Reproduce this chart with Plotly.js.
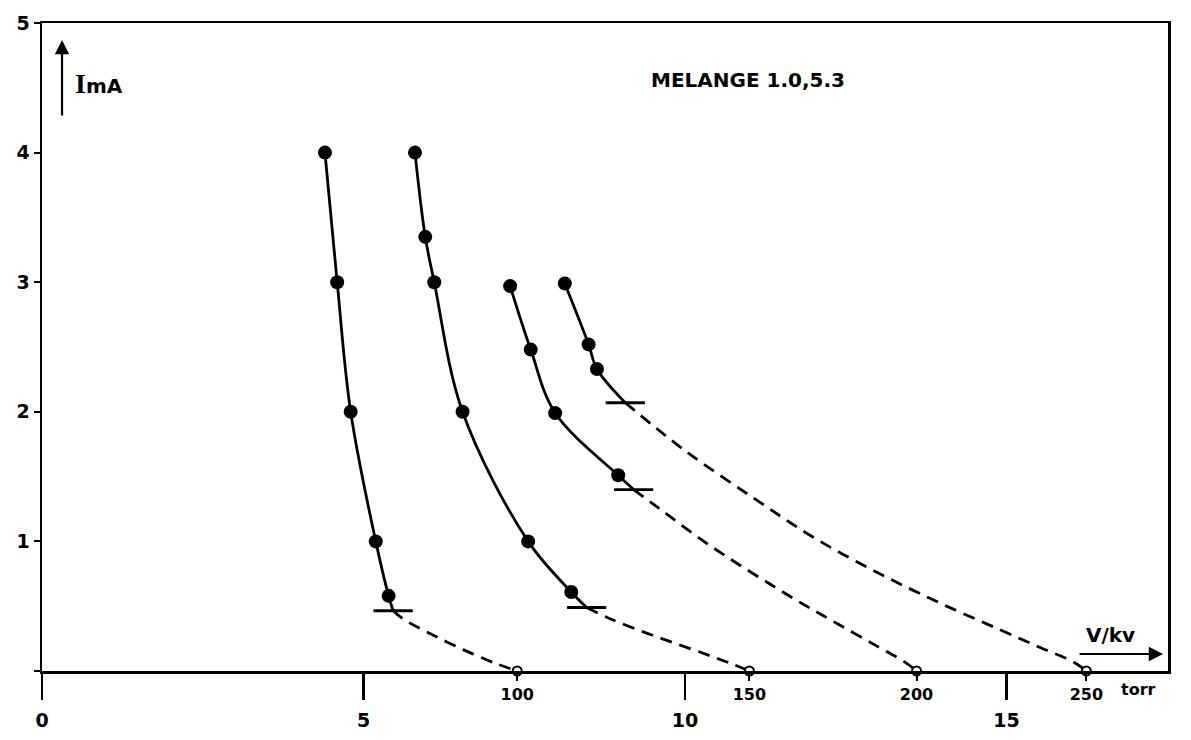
<!DOCTYPE html>
<html>
<head>
<meta charset="utf-8">
<script src="https://cdn.plot.ly/plotly-3.0.1.min.js"></script>
<style>html,body{margin:0;padding:0;background:#fff;}#chart{width:1191px;height:740px;}</style>
</head>
<body>
<div id="chart"></div>
<script>
// ---- data (x: V / kV, y: I / mA) ----
// 100 torr
const c100DotX = [4.40, 4.59, 4.80, 5.19, 5.39];
const c100DotY = [4.0, 3.0, 2.0, 1.0, 0.58];
const c100CutX = 5.46, c100CutY = 0.465;
const c100DashX = [5.46, 5.62, 6.07, 6.55, 7.02, 7.39];
const c100DashY = [0.465, 0.40, 0.28, 0.165, 0.065, 0];
// 150 torr
const c150DotX = [5.80, 5.96, 6.10, 6.54, 7.56, 8.23];
const c150DotY = [4.0, 3.35, 3.0, 2.0, 1.0, 0.61];
const c150CutX = 8.47, c150CutY = 0.49;
const c150DashX = [8.47, 8.85, 9.36, 9.81, 10.32, 10.70, 11.0];
const c150DashY = [0.49, 0.40, 0.30, 0.22, 0.13, 0.06, 0];
// 200 torr
const c200DotX = [7.28, 7.60, 7.98, 8.96];
const c200DotY = [2.97, 2.48, 1.99, 1.51];
const c200CutX = 9.20, c200CutY = 1.40;
const c200DashX = [9.20, 9.58, 10.44, 11.72, 12.35, 12.99, 13.43, 13.60];
const c200DashY = [1.40, 1.26, 0.95, 0.55, 0.37, 0.19, 0.065, 0];
// 250 torr
const c250DotX = [8.13, 8.50, 8.63];
const c250DotY = [2.99, 2.52, 2.33];
const c250CutX = 9.07, c250CutY = 2.07;
const c250DashX = [9.07, 10.0, 11.08, 12.0, 12.99, 13.94, 14.89, 15.53, 16.04, 16.24];
const c250DashY = [2.07, 1.70, 1.33, 1.03, 0.76, 0.53, 0.32, 0.18, 0.07, 0];

// tick labels
const xTickVals = [0, 5, 10, 15];
const xTickText = ["0", "5", "10", "15"];
const yTickVals = [0, 1, 2, 3, 4, 5];
const yTickText = ["", "1", "2", "3", "4", "5"];
const torrX = [7.39, 11.0, 13.6, 16.24];
const torrText = ["100", "150", "200", "250"];

const curves = [
  {dx: c100DotX, dy: c100DotY, cx: c100CutX, cy: c100CutY, sx: c100DashX, sy: c100DashY},
  {dx: c150DotX, dy: c150DotY, cx: c150CutX, cy: c150CutY, sx: c150DashX, sy: c150DashY},
  {dx: c200DotX, dy: c200DotY, cx: c200CutX, cy: c200CutY, sx: c200DashX, sy: c200DashY},
  {dx: c250DotX, dy: c250DotY, cx: c250CutX, cy: c250CutY, sx: c250DashX, sy: c250DashY}
];

const traces = [];
curves.forEach(c => {
  traces.push({x: c.dx.concat([c.cx]), y: c.dy.concat([c.cy]), mode: 'lines',
    line: {color: '#000', width: 2.8, shape: 'spline', smoothing: 1}, hoverinfo: 'skip'});
  traces.push({x: c.sx, y: c.sy, mode: 'lines',
    line: {color: '#000', width: 2.8, dash: '12px,8px', shape: 'spline', smoothing: 1}, hoverinfo: 'skip'});
  traces.push({x: c.dx, y: c.dy, mode: 'markers',
    marker: {color: '#000', size: 14, symbol: 'circle'}});
  traces.push({x: [c.cx], y: [c.cy], mode: 'markers',
    marker: {color: '#000', size: 28, symbol: 'line-ew', line: {color: '#000', width: 2.8}}});
});
traces.push({x: torrX, y: torrX.map(() => 0), xaxis: 'x2', mode: 'markers', cliponaxis: false,
  marker: {color: '#fff', size: 9, symbol: 'circle', line: {color: '#000', width: 2}}});

const tickFont = {family: 'DejaVu Sans, Liberation Sans, sans-serif', size: 19, color: '#000', weight: 'bold'};

const layout = {
  width: 1191, height: 740,
  margin: {l: 42, r: 23, t: 23, b: 69},
  paper_bgcolor: '#fff', plot_bgcolor: '#fff',
  showlegend: false,
  font: {family: 'DejaVu Sans, sans-serif', color: '#000'},
  xaxis: {
    range: [0, 17.51], showgrid: false, zeroline: false,
    showline: true, linecolor: '#000', linewidth: 2.5, mirror: true,
    tickmode: 'array', tickvals: xTickVals, ticktext: xTickText,
    ticks: 'outside', ticklen: 26, tickwidth: 2.2, tickcolor: '#000',
    ticklabelstandoff: 5, tickfont: tickFont
  },
  xaxis2: {
    range: [0, 17.51], overlaying: 'x', anchor: 'y', side: 'bottom',
    showgrid: false, zeroline: false, showline: false,
    tickmode: 'array', tickvals: torrX, ticktext: torrText,
    ticks: 'outside', ticklen: 9, tickwidth: 2, tickcolor: '#000',
    tickfont: {family: 'DejaVu Sans, sans-serif', size: 16, color: '#000', weight: 'bold'}
  },
  yaxis: {
    range: [0, 5], showgrid: false, zeroline: false,
    showline: true, linecolor: '#000', linewidth: 2.5, mirror: true,
    tickmode: 'array', tickvals: yTickVals, ticktext: yTickText,
    ticks: 'outside', ticklen: 6, tickwidth: 2, tickcolor: '#000',
    tickfont: tickFont
  },
  annotations: [
    {xref: 'paper', yref: 'paper', x: 0.0178, y: 0.9738, ax: 0, ay: 77, text: '',
     showarrow: true, arrowhead: 2, arrowsize: 1.3, arrowwidth: 2.2, arrowcolor: '#000'},
    {xref: 'paper', yref: 'paper', x: 0.0275, y: 0.9074, xanchor: 'left', yanchor: 'middle', showarrow: false,
     text: '<span style="font-family:Liberation Serif;font-size:28px">I</span>mA',
     font: {family: 'DejaVu Sans, sans-serif', size: 20, color: '#000', weight: 'bold'}},
    {xref: 'paper', yref: 'paper', x: 0.627, y: 0.912, xanchor: 'center', yanchor: 'middle', showarrow: false,
     text: 'MELANGE 1.0,5.3',
     font: {family: 'DejaVu Sans, sans-serif', size: 20, color: '#000', weight: 'bold'}},
    {xref: 'paper', yref: 'paper', x: 0.9956, y: 0.0262, ax: -85, ay: 0, text: '',
     showarrow: true, arrowhead: 2, arrowsize: 1.3, arrowwidth: 2.2, arrowcolor: '#000'},
    {xref: 'paper', yref: 'paper', x: 0.9485, y: 0.0556, xanchor: 'center', yanchor: 'middle', showarrow: false,
     text: 'V/kv',
     font: {family: 'DejaVu Sans, sans-serif', size: 20, color: '#000', weight: 'bold'}},
    {xref: 'paper', yref: 'paper', x: 0.974, y: -0.0293, xanchor: 'center', yanchor: 'middle', showarrow: false,
     text: 'torr',
     font: {family: 'DejaVu Sans, sans-serif', size: 16, color: '#000', weight: 'bold'}}
  ]
};

Plotly.newPlot('chart', traces, layout, {staticPlot: true, displayModeBar: false});
</script>
</body>
</html>
